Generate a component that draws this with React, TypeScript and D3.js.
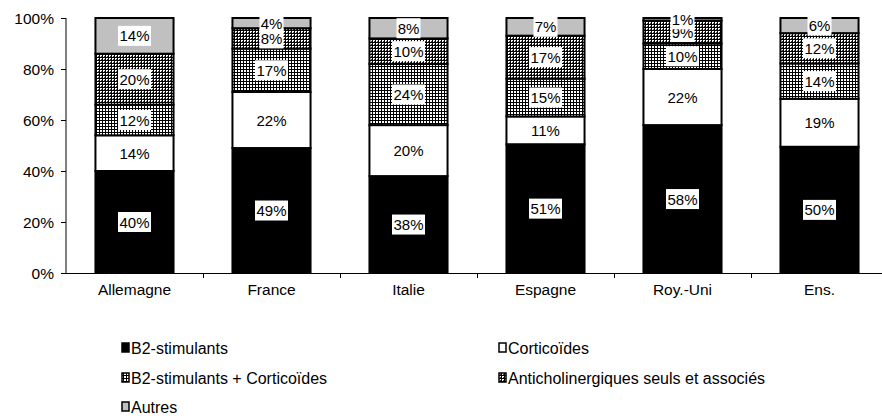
import React from "react";
import * as d3 from "d3";

const countries = ["Allemagne", "France", "Italie", "Espagne", "Roy.-Uni", "Ens."];
const seriesNames = [
  "B2-stimulants",
  "Corticoïdes",
  "B2-stimulants + Corticoïdes",
  "Anticholinergiques seuls et associés",
  "Autres",
];
const b2 = [40, 49, 38, 51, 58, 50];
const cortico = [14, 22, 20, 11, 22, 19];
const b2Cortico = [12, 17, 24, 15, 10, 14];
const antichol = [20, 8, 10, 17, 9, 12];
const autres = [14, 4, 8, 7, 1, 6];
const yTicks = [0, 0.2, 0.4, 0.6, 0.8, 1];

const fills = ["#000000", "#ffffff", "url(#gridLight)", "url(#gridDense)", "#c0c0c0"];
const FONT = "'Liberation Sans', Arial, sans-serif";

export default function App() {
  const width = 882;
  const height = 416;
  const margin = { top: 18, left: 66, bottom: 143 };
  const innerH = height - margin.top - margin.bottom;
  const step = 137;

  const rows = countries.map((c, i) => ({
    country: c,
    s0: b2[i],
    s1: cortico[i],
    s2: b2Cortico[i],
    s3: antichol[i],
    s4: autres[i],
  }));
  const keys = ["s0", "s1", "s2", "s3", "s4"];
  const raw = [b2, cortico, b2Cortico, antichol, autres];
  const stack = d3.stack<any>().keys(keys).offset(d3.stackOffsetExpand);
  const series = stack(rows);

  const x = d3
    .scaleBand()
    .domain(countries)
    .range([margin.left, margin.left + step * countries.length])
    .paddingInner(0.43)
    .paddingOuter(0.215);
  const y = d3.scaleLinear().domain([0, 1]).range([margin.top + innerH, margin.top]);

  const labels: JSX.Element[] = [];
  series.forEach((s, si) => {
    s.forEach((d, ci) => {
      const cx = (x(countries[ci]) as number) + x.bandwidth() / 2;
      const cy = (y(d[0]) + y(d[1])) / 2;
      const text = `${raw[si][ci]}%`;
      const w = text.length === 2 ? 24 : 33;
      labels.push(
        <g key={`l${si}-${ci}`}>
          <rect x={cx - w / 2} y={cy - 10} width={w} height={20} fill="#fff" />
          <text x={cx} y={cy + 5.5} textAnchor="middle" fontSize={15} fontFamily={FONT}>
            {text}
          </text>
        </g>
      );
    });
  });

  const legendPos = [
    [130, 348],
    [507, 348],
    [130, 378],
    [507, 378],
    [130, 407],
  ];

  return (
    <svg width={width} height={height} style={{ position: "absolute", left: 0, top: 0 }}>
      <defs>
        <pattern id="gridLight" width={3} height={3} patternUnits="userSpaceOnUse">
          <rect width={3} height={3} fill="#fff" />
          <rect width={3} height={1} fill="#000" />
          <rect width={1} height={3} fill="#000" />
        </pattern>
        <pattern id="gridDense" width={3} height={3} patternUnits="userSpaceOnUse">
          <rect width={3} height={3} fill="#fff" />
          <rect width={3} height={1} fill="#000" />
          <rect width={1} height={3} fill="#000" />
          <rect x={2} y={2} width={1} height={1} fill="#444" />
        </pattern>
      </defs>
      <rect width={width} height={height} fill="#fff" />

      {series.map((s, si) =>
        s.map((d, ci) => (
          <rect
            key={`b${si}-${ci}`}
            x={x(countries[ci])}
            y={y(d[1])}
            width={x.bandwidth()}
            height={y(d[0]) - y(d[1])}
            fill={fills[si]}
            stroke="#000"
            strokeWidth={2}
          />
        ))
      )}
      {labels}

      {/* axes */}
      <line x1={margin.left} x2={margin.left} y1={margin.top} y2={y(0)} stroke="#000" />
      <line x1={margin.left} x2={width} y1={y(0) + 0.5} y2={y(0) + 0.5} stroke="#000" />
      {yTicks.map((t) => (
        <g key={`y${t}`}>
          <line x1={margin.left - 5} x2={margin.left} y1={y(t) + 0.5} y2={y(t) + 0.5} stroke="#000" />
          <text x={54} y={y(t) + 5.5} textAnchor="end" fontSize={15.5} fontFamily={FONT}>
            {d3.format(".0%")(t)}
          </text>
        </g>
      ))}
      {countries.map((c, i) => (
        <g key={`x${c}`}>
          <line
            x1={margin.left + step * (i + 1) + 0.5}
            x2={margin.left + step * (i + 1) + 0.5}
            y1={y(0)}
            y2={y(0) + 5}
            stroke="#000"
          />
          <text
            x={(x(c) as number) + x.bandwidth() / 2}
            y={y(0) + 22}
            textAnchor="middle"
            fontSize={15.5}
            fontFamily={FONT}
          >
            {c}
          </text>
        </g>
      ))}

      {seriesNames.map((n, i) => (
        <g key={n}>
          <rect
            x={legendPos[i][0] - 8}
            y={legendPos[i][1] - 5}
            width={7}
            height={9}
            fill={fills[i]}
            stroke="#000"
            strokeWidth={1.5}
          />
          <text x={legendPos[i][0] + 1} y={legendPos[i][1] + 5.5} fontSize={16} fontFamily={FONT}>
            {n}
          </text>
        </g>
      ))}
    </svg>
  );
}
